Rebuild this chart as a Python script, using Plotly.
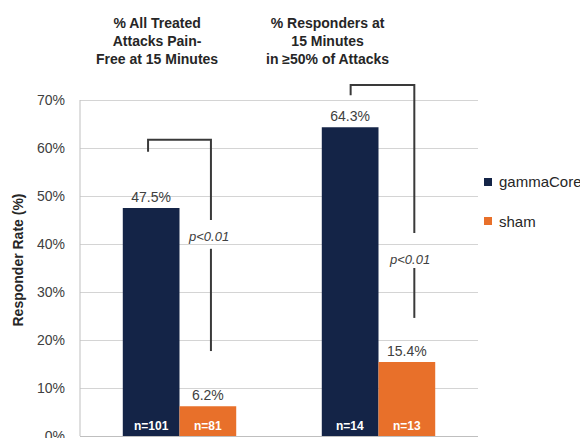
import plotly.graph_objects as go

# ---- data ----
groups = ["% All Treated<br>Attacks Pain-<br>Free at 15 Minutes",
          "% Responders at<br>15 Minutes<br>in \u226550% of Attacks"]
gamma_vals = [47.5, 64.3]
sham_vals = [6.2, 15.4]
gamma_n = ["n=101", "n=14"]
sham_n = ["n=81", "n=13"]
p_labels = ["p<0.01", "p<0.01"]
y_ticks = [0, 10, 20, 30, 40, 50, 60, 70]
y_ticktext = ["0%", "10%", "20%", "30%", "40%", "50%", "60%", "70%"]

NAVY = "#142447"
ORANGE = "#E8702A"
FONT = "Liberation Sans, Arial, Helvetica, sans-serif"
GRAY = "#404040"

xpos = list(range(len(groups)))

fig = go.Figure()
fig.add_trace(go.Bar(x=xpos, y=gamma_vals, name="gammaCore", marker_color=NAVY,
                     marker_line_width=0, text=[f"{v:.1f}%" for v in gamma_vals],
                     textposition="outside", cliponaxis=False,
                     textfont=dict(size=14, color=GRAY, family=FONT), showlegend=False))
fig.add_trace(go.Bar(x=xpos, y=sham_vals, name="sham", marker_color=ORANGE,
                     marker_line_width=0, text=[f"{v:.1f}%" for v in sham_vals],
                     textposition="outside", cliponaxis=False,
                     textfont=dict(size=14, color=GRAY, family=FONT), showlegend=False))

off = 0.1425
annotations = []
shapes = []
for i in xpos:
    annotations.append(dict(x=i - off, y=0, xref="x", yref="y", text=f"<b>{gamma_n[i]}</b>",
                            showarrow=False, yanchor="bottom", xanchor="center", yshift=1,
                            font=dict(size=12, color="white", family=FONT)))
    annotations.append(dict(x=i + off, y=0, xref="x", yref="y", text=f"<b>{sham_n[i]}</b>",
                            showarrow=False, yanchor="bottom", xanchor="center", yshift=1,
                            font=dict(size=12, color="white", family=FONT)))

# significance brackets (positions in data units)
brackets = [
    dict(xl=-0.158, xr=0.158, lb=59.2, top=61.7, re=45.0, ty=41.5, l1=39.0, l2=17.7, tx=0.148),
    dict(xl=0.86, xr=1.18, lb=71.0, top=73.1, re=42.3, ty=36.7, l1=35.0, l2=24.6, tx=1.158),
]
lc = dict(color="#3a3a3a", width=2)
for i, b in enumerate(brackets):
    shapes.append(dict(type="path", xref="x", yref="y",
                       path=f"M {b['xl']},{b['lb']} L {b['xl']},{b['top']} L {b['xr']},{b['top']} L {b['xr']},{b['re']}",
                       line=lc))
    shapes.append(dict(type="line", xref="x", yref="y", x0=b['xr'], x1=b['xr'],
                       y0=b['l1'], y1=b['l2'], line=lc))
    annotations.append(dict(x=b['tx'], y=b['ty'], xref="x", yref="y",
                            text=f"<i>{p_labels[i].replace('<', '&lt;')}</i>",
                            showarrow=False, xanchor="center", yanchor="middle",
                            font=dict(size=13, color=GRAY, family=FONT)))

# group titles
title_x = [0.193, 0.623]
for i, g in enumerate(groups):
    annotations.append(dict(x=title_x[i], y=1.097, xref="paper", yref="paper",
                            text=f"<b>{g}</b>", showarrow=False, yanchor="middle", xanchor="center",
                            font=dict(size=14, color="#262626", family=FONT)))

# y-axis title
annotations.append(dict(x=-0.156, y=0.49, xref="paper", yref="paper",
                        text="<b>Responder Rate (%)</b>", textangle=-90, showarrow=False,
                        xanchor="center", yanchor="middle",
                        font=dict(size=14, color="#262626", family=FONT)))

# y-axis line
shapes.append(dict(type="line", xref="paper", yref="y", x0=0, x1=0, y0=0, y1=70,
                   line=dict(color="#BFBFBF", width=1)))

# legend (manual)
leg = [("gammaCore", NAVY, 0.7056), ("sham", ORANGE, 0.5972)]
for name, col, yc in leg:
    shapes.append(dict(type="rect", xref="paper", yref="paper", x0=1.0151, x1=1.0352,
                       y0=yc - 0.0111, y1=yc + 0.0111, fillcolor=col, line_width=0))
    annotations.append(dict(x=1.0477, y=yc, xref="paper", yref="paper", text=name,
                            showarrow=False, xanchor="left", yanchor="middle",
                            font=dict(size=15, color="#262626", family=FONT)))

fig.update_layout(
    width=580, height=430,
    margin=dict(l=72, r=110, t=68, b=2, autoexpand=False),
    paper_bgcolor="white", plot_bgcolor="white",
    barmode="group", bargap=0.43, bargroupgap=0,
    showlegend=False,
    font=dict(family=FONT, color=GRAY, size=14),
    xaxis=dict(range=[-0.5, 1.5], showticklabels=False, showgrid=False, zeroline=False,
               showline=True, linecolor="#BFBFBF", linewidth=1, ticks="", automargin=False),
    yaxis=dict(range=[0, 75], tickmode="array", tickvals=y_ticks, ticktext=y_ticktext,
               showgrid=True, gridcolor="#D4D4D4", gridwidth=1, zeroline=False, showline=False,
               ticklabelstandoff=14, ticklabeloverflow="allow", automargin=False,
               tickfont=dict(size=14, color=GRAY, family=FONT)),
    annotations=annotations, shapes=shapes,
)

fig.write_html("out.html")
